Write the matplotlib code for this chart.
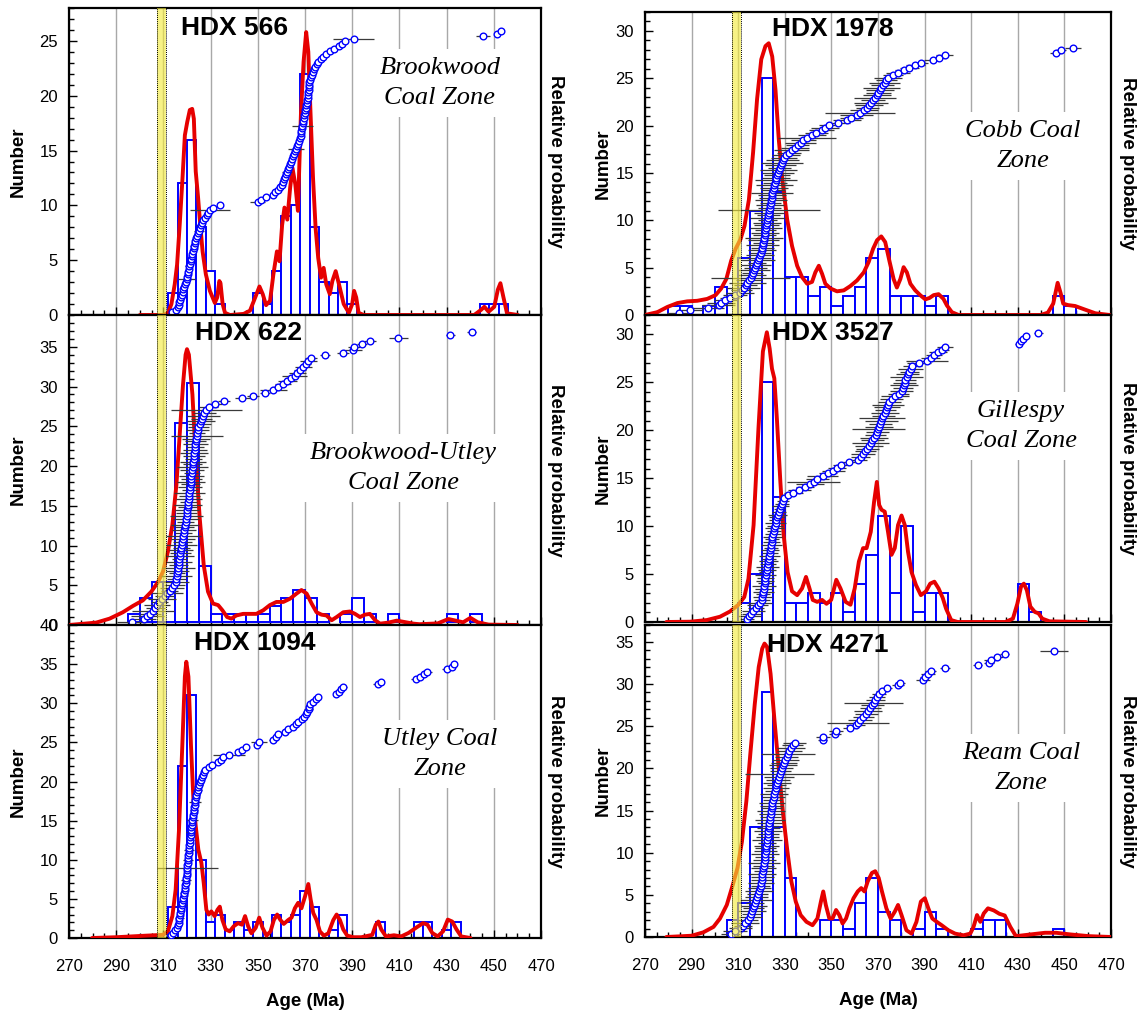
import numpy as np
import matplotlib
matplotlib.use('Agg')
import matplotlib.pyplot as plt
from matplotlib.ticker import FixedLocator, MultipleLocator

plt.rcParams['font.family'] = ['Liberation Sans', 'DejaVu Sans']

# ---------- HDX 566 (Brookwood) ----------
ages_566 = [
    313.8, 315.2,
    316.2, 316.5, 316.8, 317.1, 317.4, 317.8, 318.1, 318.5, 318.8, 319.2, 319.5, 319.8,
    320.1, 320.3, 320.5, 320.8, 321.0, 321.3, 321.5, 321.8, 322.0, 322.3, 322.5, 322.8, 323.0, 323.3, 323.6, 323.9,
    324.2, 324.6, 325.0, 325.4, 325.8, 326.3, 326.9, 327.6,
    328.3, 329.0, 329.8, 330.9,
    334.0,
    349.9, 351.3, 353.4,
    356.6, 357.5, 358.4, 359.3,
    360.3, 360.7, 361.2, 361.6, 362.0, 362.4, 362.8, 363.2, 363.6,
    364.2, 364.6, 365.0, 365.4, 365.8, 366.2, 366.6, 367.0, 367.4, 367.8,
    368.1, 368.3, 368.5, 368.7, 368.9, 369.1, 369.3, 369.5, 369.7, 369.9, 370.1,
    370.3, 370.5, 370.7, 370.9, 371.1, 371.2, 371.4, 371.5, 371.7, 371.8, 371.9,
    372.2, 372.5, 372.8, 373.2, 373.7, 374.3, 374.9, 375.6,
    376.6, 377.6, 378.8, 380.6, 382.2,
    384.6, 385.6, 386.9, 390.6,
    445.6, 451.4, 452.9,
]
err_566 = [
    1.5, 1.2,
    1.2, 1.0, 1.3, 1.0, 1.6, 1.2, 1.8, 1.0, 1.4, 1.2, 1.0, 3.7,
    1.2, 1.0, 1.4, 1.0, 1.7, 1.2, 1.0, 1.3, 1.0, 1.5, 1.2, 1.0, 1.8, 1.2, 1.0, 1.3,
    1.5, 1.0, 2.0, 1.2, 1.8, 1.0, 1.2, 1.0,
    1.0, 1.2, 8.4, 1.0,
    1.0,
    3.2, 1.0, 1.0,
    1.0, 1.2, 1.0, 1.0,
    1.2, 1.0, 1.5, 1.0, 1.2, 2.0, 1.0, 1.3, 1.0,
    1.0, 1.2, 1.0, 1.0, 1.5, 3.2, 1.0, 1.2, 1.0, 1.3,
    1.0, 1.2, 1.0, 1.5, 4.3, 1.0, 1.2, 1.0, 1.4, 1.0, 1.2,
    1.6, 1.0, 1.2, 1.0, 1.5, 1.0, 1.2, 1.0, 1.3, 1.0, 1.2,
    1.3, 1.0, 1.2, 1.0, 1.5, 1.0, 1.2, 1.0,
    1.0, 1.2, 1.0, 1.0, 1.2,
    1.0, 1.2, 1.0, 8.8,
    3.0, 1.0, 1.2,
]
curve_x_566 = [300, 310, 312, 313.4, 314.8, 315.8, 316.9, 318.1, 319.1, 320.1,
               321.2, 322.2, 322.9, 323.7, 324.7, 325.4, 326.6, 328, 329.7, 331.8,
               332.8, 333.7, 334.2, 335.1, 336.1, 338.2, 344, 346.7, 348.9, 350.7,
               352.1, 353.5, 355.2, 356.6, 358.1, 359.2, 360.3, 361.3, 362.5, 363.7,
               364.7, 365.9, 367.0, 368.3, 369.4, 370.5, 371.4, 372.2, 373.4, 374.5,
               375.6, 376.8, 377.9, 379.0, 380.5, 381.6, 383.0, 384.4, 386.4, 388.6,
               390.0, 390.8, 391.7, 392.7, 394.9, 441.7, 444.5, 446.0, 447.8, 450.2,
               451.7, 452.8, 454.0, 455.6, 460.2]
curve_y_566 = [0, 0, 0.2, 1.0, 2.8, 4.6, 8.2, 12.5, 16.4, 17.6,
               18.7, 18.8, 17.9, 13.1, 10.7, 8.8, 5.8, 3.7, 2.2, 1.1,
               1.6, 3.1, 2.9, 1.0, 0.2, 0, 0.1, 0.4, 1.6, 2.6,
               1.9, 0.9, 1.3, 3.7, 5.8, 4.9, 8.2, 9.8, 8.7, 11.6,
               13.4, 11.9, 9.5, 18.5, 23.1, 25.8, 24.0, 19.2, 12.5, 7.9,
               5.2, 3.4, 4.3, 2.8, 1.9, 3.1, 4.0, 2.8, 1.0, 0.2,
               1.0, 2.2, 1.6, 0.2, 0, 0, 0.45, 0.75, 0.3, 0.75,
               2.3, 2.9, 1.7, 0.15, 0]

# ---------- HDX 622 (Brookwood-Utley) ----------
ages_622 = [
    296.5,
    301.8, 303.2, 304.4,
    305.6, 306.5, 307.4, 308.3, 309.3,
    310.6, 311.6, 312.6, 313.6, 314.6,
    315.2, 315.4, 315.6, 315.8, 316.0, 316.2, 316.4, 316.6, 316.8, 317.0, 317.2, 317.4, 317.6,
    317.8, 318.0, 318.2, 318.4, 318.6, 318.8, 319.0, 319.2, 319.4, 319.6, 319.8, 319.9,
    320.1, 320.3, 320.4, 320.6, 320.7, 320.9, 321.0, 321.2, 321.3, 321.5, 321.6, 321.8, 321.9, 322.1, 322.2,
    322.4, 322.5, 322.7, 322.8, 323.0, 323.1, 323.3, 323.4, 323.6, 323.7, 323.9, 324.1, 324.3, 324.5, 324.8,
    325.3, 325.8, 326.3, 326.8, 327.4, 328.2, 329.2,
    332.0, 335.8, 343.4, 347.8, 353.0,
    356.5, 358.7, 360.6, 362.4, 364.2,
    365.6, 366.8, 368.0, 369.3, 370.4, 371.4, 372.4, 378.4,
    386.0, 390.2, 390.8, 394.2, 397.4,
    409.6, 431.6, 440.6,
]
err_622 = [
    6.0,
    5.0, 7.0, 4.5,
    9.0, 4.0, 5.5, 3.5, 6.0,
    4.0, 6.5, 3.5, 5.0, 4.5,
    5.5, 4.0, 6.5, 3.5, 5.0, 7.0, 4.0, 5.5, 3.0, 6.0, 4.5, 5.0, 3.5,
    6.5, 4.0, 5.0, 7.5, 3.5, 5.0, 4.0, 6.0, 3.5, 5.5, 7.0, 4.5,
    5.0, 4.0, 6.0, 3.5, 5.5, 4.5, 6.5, 3.5, 5.0, 4.0, 6.0, 4.5, 5.5, 3.5, 5.0,
    6.5, 4.0, 5.5, 3.5, 4.5, 6.0, 5.0, 4.0, 5.5, 4.5, 6.0, 11.0, 3.5, 5.0, 4.5,
    5.0, 6.0, 4.5, 7.0, 5.0, 15.0, 4.0,
    3.0, 2.5, 3.2, 2.5, 2.0,
    5.7, 2.5, 3.5, 4.0, 2.5,
    5.3, 3.5, 2.5, 3.5, 2.0, 3.5, 2.5, 2.0,
    2.5, 3.9, 2.5, 2.0, 2.5,
    4.2, 2.0, 2.0,
]
curve_x_622 = [270, 281.5, 287.2, 292.8, 297.1, 301.3, 304.9, 307.7, 309.8, 311.9,
               313.8, 315.5, 316.9, 318.3, 319.4, 320.0, 320.8, 322.3, 323.7, 325.4,
               327.1, 328.9, 331.0, 333.2, 335.0, 337.0, 338.8, 340.9, 343.8, 346.6,
               349.4, 352.3, 355.1, 357.9, 360.8, 363.6, 366.4, 368.5, 370.7, 372.8,
               374.9, 377.0, 379.1, 381.3, 383.4, 386.2, 389.1, 391.2, 393.3, 395.4,
               397.5, 399.7, 401.8, 405.3, 408.9, 411.7, 416.0, 418.5, 426.2, 430.8,
               433.9, 437.0, 440.1, 443.2, 447.8, 460.1]
curve_y_622 = [0, 0.3, 0.8, 1.6, 2.4, 3.1, 4.2, 5.4, 6.7, 9.2,
               12.6, 17.6, 23.9, 30.2, 34.0, 34.7, 34.0, 29.0, 21.0, 13.4,
               7.5, 4.2, 2.7, 2.5, 1.85, 1.0, 0.8, 1.2, 1.4, 1.4,
               1.4, 1.85, 2.5, 2.9, 2.9, 3.3, 3.95, 4.4, 3.95, 2.7,
               1.6, 1.3, 1.2, 0.6, 1.0, 1.6, 1.7, 1.4, 1.0, 1.3,
               1.4, 0.6, 0.17, 0.3, 0.55, 0.4, 0.17, 0.1, 0.2, 0.75,
               0.55, 0.34, 0.9, 0.34, 0.05, 0]

# ---------- HDX 1094 (Utley) ----------
ages_1094 = [
    313.2, 314.2, 315.0, 315.7,
    316.2, 316.4, 316.6, 316.8, 317.0, 317.2, 317.4, 317.6, 317.8, 318.0, 318.2,
    318.4, 318.6, 318.8, 319.0, 319.1, 319.3, 319.4, 319.5, 319.6, 319.8, 319.9,
    320.05, 320.1, 320.2, 320.3, 320.4, 320.5, 320.6, 320.7, 320.8, 320.9, 321.0, 321.1, 321.2, 321.4, 321.5, 321.6,
    321.8, 321.9, 322.0, 322.2, 322.3, 322.5, 322.6, 322.8, 322.9, 323.1, 323.2, 323.4, 323.5, 323.7, 323.9,
    324.2, 324.5, 324.8, 325.1, 325.4, 325.8, 326.2, 326.6, 327.1, 327.7,
    329.3, 330.6, 333.0, 334.2, 335.3, 337.8, 341.8, 343.4, 345.2, 349.8, 350.6,
    356.6, 357.6, 358.6, 361.4, 362.8, 364.8, 366.2, 367.2,
    368.6, 369.4, 370.3, 371.0, 371.5, 371.9, 372.3, 373.2, 374.6, 375.6,
    383.2, 384.6, 385.3, 385.9,
    401.0, 402.4, 417.0, 418.6, 420.4, 421.8, 430.2, 432.4, 433.0,
]
err_1094 = [
    1.5, 2.0, 1.2, 1.5,
    1.2, 1.5, 1.0, 2.0, 1.2, 1.0, 1.5, 1.2, 2.2, 1.0, 1.3,
    1.5, 1.0, 1.8, 1.2, 1.0, 1.5, 1.2, 2.0, 1.0, 1.3, 1.0,
    1.2, 13.0, 1.5, 1.0, 2.0, 1.2, 1.0, 1.5, 2.2, 1.0, 1.3, 1.0, 1.8, 1.2, 1.0, 2.0,
    1.3, 1.0, 1.5, 1.2, 2.2, 1.0, 1.3, 1.0, 1.6, 1.2, 1.0, 2.4, 1.2, 1.0, 1.5,
    1.2, 2.0, 1.0, 1.5, 1.2, 1.0, 1.3, 1.0, 1.2, 1.0,
    1.0, 1.2, 1.5, 1.2, 1.0, 6.9, 1.0, 1.2, 1.0, 1.2, 3.5,
    2.0, 1.2, 1.0, 1.2, 1.0, 1.0, 1.2, 1.0,
    1.0, 1.2, 1.0, 1.5, 2.0, 1.2, 1.0, 1.2, 1.0, 1.0,
    1.0, 1.2, 1.0, 2.0,
    2.0, 1.0, 2.0, 1.0, 1.2, 2.0, 2.0, 1.0, 1.2,
]
curve_x_1094 = [279.8, 290, 302.7, 309.8, 311.9, 313.8, 315.2, 316.6, 318.0, 319.1,
                319.7, 320.6, 321.7, 322.8, 323.7, 324.8, 326.1, 327.1, 328.2, 329.2,
                330.3, 331.7, 332.9, 333.9, 335.0, 336.4, 338.1, 339.8, 341.6, 343.3,
                344.6, 345.9, 347.3, 349.1, 350.6, 352.0, 353.7, 355.4, 356.8, 358.2,
                359.6, 361.0, 362.9, 364.3, 365.7, 367.1, 368.5, 370.0, 371.4, 372.4,
                373.5, 374.9, 376.3, 378.0, 379.9, 382.0, 383.4, 384.8, 386.2, 387.9,
                390.5, 393.9, 398.5, 400.0, 401.1, 402.3, 404.3, 407.7, 410.8, 413.9,
                417.0, 420.0, 421.9, 423.9, 426.2, 428.5, 430.5, 432.4, 434.2, 436.2,
                440.1]
curve_y_1094 = [0, 0.1, 0.3, 0.4, 0.85, 2.8, 6.2, 13.8, 24.5, 33.4,
                35.3, 33.4, 24.5, 17.2, 14.3, 11.3, 9.6, 7.0, 3.6, 3.0,
                3.4, 2.8, 3.6, 4.0, 2.3, 1.1, 0.85, 1.5, 1.9, 1.7,
                2.8, 1.5, 0.6, 1.3, 2.6, 1.3, 0.3, 0.85, 2.3, 3.0,
                2.3, 1.8, 2.3, 2.6, 3.8, 4.5, 3.8, 5.3, 6.9, 4.9,
                3.2, 2.3, 0.85, 0.3, 0.6, 2.3, 3.0, 2.3, 1.1, 0.3,
                0.1, 0.1, 0.4, 1.7, 2.1, 1.1, 0.2, 0.35, 0.2, 0.65,
                1.3, 1.9, 1.7, 0.65, 0.2, 0.85, 2.35, 2.1, 1.1, 0.2,
                0]

# ---------- HDX 1978 (Cobb) ----------
ages_1978 = [
    284.4, 289.4, 297.0, 301.6, 302.8, 304.4, 306.4, 308.6,
    310.6, 311.6, 312.4, 313.2, 313.9, 314.6,
    315.3, 315.8, 316.3, 316.8, 317.3, 317.7, 318.1, 318.5, 318.9, 319.3, 319.7,
    320.1, 320.3, 320.5, 320.7, 320.9, 321.1, 321.3, 321.5, 321.7, 321.9, 322.1, 322.3, 322.5,
    322.7, 322.9, 323.1, 323.3, 323.5, 323.7, 323.9, 324.1, 324.3, 324.5, 324.7, 324.9,
    325.2, 325.5, 325.8, 326.1, 326.4, 326.7, 327.0, 327.4, 327.8, 328.2, 328.6, 329.1, 329.6,
    330.6, 331.8, 333.0, 334.2, 335.6, 336.8, 338.0, 339.4,
    341.8, 343.6, 345.8, 347.4, 349.0, 353.0, 356.6, 358.6,
    360.8, 362.4, 363.8, 365.4, 366.2, 367.0, 367.8, 368.6, 369.4,
    370.2, 370.8, 371.4, 372.0, 372.8, 373.6, 374.4,
    376.4, 378.6, 381.0, 383.4, 386.0, 388.6, 393.4, 396.0, 398.6,
    446.4, 448.6, 453.8,
]
err_1978 = [
    5.0, 5.0, 7.0, 7.0, 6.0, 5.0, 4.0, 5.0,
    6.0, 4.5, 7.0, 5.0, 8.0, 5.5,
    17.0, 6.0, 4.5, 7.0, 5.0, 6.5, 4.0, 7.5, 5.0, 6.0, 4.5,
    6.0, 5.0, 7.0, 4.5, 6.5, 8.0, 5.0, 6.0, 4.5, 7.0, 5.5, 6.0, 4.0,
    7.5, 5.0, 6.5, 22.0, 5.0, 6.0, 4.5, 7.0, 5.5, 6.0, 9.0, 5.0,
    6.0, 8.0, 5.0, 9.0, 6.0, 5.5, 7.0, 8.0, 5.0, 6.5, 9.0, 7.0, 5.5,
    6.0, 5.0, 7.5, 6.0, 5.0, 6.5, 5.5, 12.5,
    6.0, 5.0, 5.5, 6.0, 4.5, 5.0, 6.0, 5.0,
    7.0, 15.0, 6.0, 5.0, 6.0, 7.5, 5.0, 9.0, 6.0,
    5.5, 6.0, 8.0, 5.0, 6.5, 4.5, 6.0,
    4.3, 5.0, 3.5, 4.0, 4.0, 3.0, 3.5, 3.0, 3.5,
    2.5, 2.0, 3.5,
]
curve_x_1978 = [270, 275.3, 279.6, 283.9, 288.1, 292.4, 296.7, 300.3, 302.7, 304.9,
                307.0, 308.9, 311.0, 312.7, 314.6, 316.4, 318.1, 319.9, 321.7, 323.1,
                324.6, 326.0, 327.4, 328.9, 331.0, 333.1, 335.3, 337.4, 339.6, 341.7,
                343.1, 344.6, 346.0, 347.4, 349.6, 352.4, 355.3, 358.1, 361.0, 363.9,
                366.0, 367.9, 369.6, 371.4, 373.1, 375.0, 376.7, 378.1, 379.6, 381.0,
                382.4, 383.9, 386.0, 388.1, 390.3, 392.1, 393.9, 396.0, 398.1, 399.6,
                401.7, 404.6, 439.8, 442.9, 445.2, 447.1, 448.4, 449.5, 451.5, 454.6,
                458.5, 463.3, 469.5]
curve_y_1978 = [0, 0.3, 0.85, 1.26, 1.44, 1.5, 1.7, 2.1, 2.8, 3.8,
                5.75, 7.0, 8.0, 9.4, 12.2, 17.2, 22.8, 27.0, 28.4, 28.7,
                27.3, 23.8, 18.6, 14.4, 10.1, 7.3, 5.2, 4.0, 3.3, 3.5,
                4.5, 5.2, 4.35, 3.3, 2.8, 2.5, 2.6, 3.05, 3.65, 4.5,
                5.6, 7.0, 7.9, 8.3, 7.7, 5.6, 3.8, 2.9, 3.8, 5.05,
                4.5, 3.3, 2.6, 2.1, 1.65, 1.8, 2.1, 2.2, 1.7, 1.0,
                0.3, 0, 0, 0.25, 1.2, 3.4, 2.3, 1.2, 1.05, 0.95,
                0.6, 0.18, 0]

# ---------- HDX 3527 (Gillespy) ----------
ages_3527 = [
    313.6, 314.7,
    315.6, 316.5, 317.5, 318.4, 319.3,
    320.1, 320.3, 320.5, 320.7, 320.9, 321.1, 321.3, 321.5, 321.7, 321.9, 322.1, 322.3, 322.5,
    322.7, 322.9, 323.1, 323.3, 323.5, 323.7, 323.9, 324.1, 324.3, 324.5, 324.7, 324.9,
    325.2, 325.5, 325.8, 326.1, 326.4, 326.7, 327.0, 327.4, 327.8, 328.2, 328.6, 329.1, 329.6,
    331.4, 333.6, 336.2, 338.6, 340.8, 342.4, 344.0, 346.2, 348.6,
    350.8, 352.4, 354.0, 357.4,
    361.6, 362.6, 363.6, 364.6, 365.4, 366.2, 366.9, 367.6, 368.3, 369.0, 369.7,
    370.2, 370.6, 371.0, 371.4, 371.8, 372.3, 372.8, 373.3, 373.8, 374.3, 374.8,
    375.8, 377.2, 378.8,
    380.2, 380.6, 381.0, 381.4, 381.8, 382.3, 382.8, 383.4, 384.0, 384.7,
    387.6, 391.2, 392.6, 394.0, 395.8, 397.4, 398.8,
    430.4, 431.2, 432.2, 433.6, 438.8,
]
err_3527 = [
    3.0, 5.0,
    4.0, 5.0, 3.5, 4.5, 5.0,
    3.5, 4.0, 3.0, 4.5, 3.5, 5.0, 3.0, 4.0, 3.5, 4.5, 3.0, 4.0, 5.0,
    3.5, 4.0, 3.0, 4.5, 3.5, 4.0, 3.0, 4.5, 3.5, 3.0, 4.0, 3.5,
    3.0, 4.0, 3.5, 4.6, 3.0, 3.5, 4.0, 3.0, 2.5, 3.5, 3.0, 2.5, 2.0,
    3.0, 4.0, 5.0, 4.0, 6.0, 11.5, 5.0, 6.5, 4.0,
    5.0, 4.0, 3.5, 3.0,
    3.5, 4.0, 5.0, 4.5, 5.0, 6.0, 8.0, 5.0, 6.0, 4.5, 5.0,
    11.5, 6.0, 5.0, 7.0, 10.0, 5.0, 6.0, 4.5, 5.5, 7.0, 5.0,
    5.0, 6.0, 4.5,
    5.0, 4.3, 6.0, 5.0, 4.5, 7.0, 5.0, 4.0, 5.5, 4.0,
    5.0, 9.0, 4.0, 3.5, 4.0, 3.0, 3.5,
    1.5, 1.0, 1.5, 1.0, 2.0,
]
curve_x_3527 = [279.2, 289.3, 296.5, 302.2, 306.5, 310.1, 312.6, 314.4, 316.6, 318.7,
                320.6, 322.3, 323.5, 324.5, 325.5, 326.6, 328.1, 329.5, 331.2, 333.1,
                335.3, 337.4, 339.1, 340.6, 342.0, 343.9, 346.0, 347.9, 349.9, 352.1,
                353.9, 356.1, 358.2, 360.0, 361.8, 363.6, 365.1, 366.9, 368.3, 369.5,
                370.5, 371.5, 372.9, 374.3, 375.8, 377.2, 378.6, 380.1, 381.5, 382.9,
                384.4, 386.3, 388.4, 390.6, 392.4, 394.2, 396.0, 397.8, 399.2, 401.4,
                404.2, 424.7, 427.9, 429.8, 431.4, 432.6, 433.9, 435.4, 437.3, 438.9,
                440.5, 443.6, 459.3]
curve_y_3527 = [0, 0.03, 0.2, 0.55, 1.1, 1.8, 2.6, 4.5, 10.1, 20.2,
                28.2, 30.2, 28.5, 26.4, 25.4, 21.2, 14.6, 9.1, 5.2, 3.2,
                2.8, 3.5, 4.7, 3.5, 2.3, 2.1, 2.3, 1.9, 2.3, 4.4,
                3.5, 2.1, 1.8, 3.5, 6.3, 7.7, 7.7, 9.4, 12.5, 14.6,
                12.2, 11.7, 11.5, 9.4, 7.0, 7.7, 10.1, 11.1, 10.1, 7.3,
                5.2, 3.85, 2.8, 3.2, 4.0, 4.2, 3.5, 2.5, 1.4, 0.2,
                0, 0, 0.35, 1.9, 3.7, 4.0, 3.3, 1.6, 1.05, 0.9,
                0.35, 0.07, 0]

# ---------- HDX 4271 (Ream) ----------
ages_4271 = [
    306.8, 308.6, 311.0, 312.0, 313.0, 314.2,
    315.2, 315.6, 316.0, 316.4, 316.8, 317.2, 317.6, 318.0, 318.4, 318.8, 319.2, 319.6, 319.9,
    320.1, 320.3, 320.4, 320.6, 320.8, 320.9, 321.1, 321.3, 321.4, 321.6, 321.8, 321.9, 322.1, 322.3, 322.4,
    322.6, 322.8, 322.9, 323.1, 323.3, 323.4, 323.6, 323.8, 323.9, 324.1, 324.3, 324.4, 324.6, 324.8,
    325.2, 325.5, 325.8, 326.1, 326.4, 326.7, 327.1, 327.5, 327.9, 328.3, 328.7, 329.2, 329.7,
    330.3, 330.8, 331.4, 332.0, 332.8, 333.5, 334.3,
    346.3, 346.6, 351.5, 352.0, 357.9,
    360.4, 361.3, 362.3, 363.6, 365.0, 365.9, 366.7, 367.5, 368.2, 368.9, 369.6,
    370.4, 371.8, 373.8, 378.6, 379.4,
    389.2, 390.0, 391.4, 392.6, 398.8,
    412.8, 417.6, 418.4, 421.0, 424.4, 445.6,
]
err_4271 = [
    4.0, 5.0, 5.0, 4.0, 6.0, 4.5,
    5.0, 4.0, 6.0, 4.5, 5.5, 4.0, 7.0, 5.0, 4.5, 6.0, 5.0, 4.0, 5.5,
    4.5, 5.0, 6.0, 4.0, 5.5, 4.5, 7.0, 5.0, 4.0, 6.0, 5.0, 4.5, 5.5, 4.0, 6.5,
    5.0, 4.5, 6.0, 5.0, 4.0, 5.5, 6.5, 4.5, 5.0, 6.0, 4.5, 5.0, 5.5, 4.0,
    5.0, 6.0, 4.5, 5.5, 4.0, 6.0, 5.0, 6.5, 14.8, 4.5, 5.0, 6.0, 5.5,
    6.0, 5.0, 11.5, 5.5, 6.0, 4.5, 5.0,
    2.0, 3.0, 2.5, 3.0, 3.0,
    4.0, 13.3, 5.0, 4.5, 5.0, 6.0, 4.5, 5.0, 12.6, 4.0, 3.5,
    3.0, 2.5, 2.0, 2.5, 2.0,
    3.0, 2.0, 3.0, 2.5, 2.0,
    2.0, 2.0, 3.0, 2.5, 2.0, 6.0,
]
curve_x_4271 = [279.2, 290.0, 295.0, 299.4, 302.2, 305.1, 307.7, 309.7, 311.6, 313.5,
                315.2, 317.1, 318.8, 320.3, 321.3, 322.4, 323.9, 325.6, 327.5, 329.3,
                331.1, 332.8, 334.7, 336.8, 339.3, 341.9, 344.0, 345.5, 346.5, 347.6,
                349.1, 350.5, 352.0, 353.4, 354.8, 356.3, 357.7, 359.5, 361.3, 362.8,
                364.2, 365.6, 367.4, 368.8, 370.3, 371.7, 373.6, 375.4, 377.2, 378.6,
                380.1, 382.2, 384.4, 386.5, 388.4, 390.1, 391.6, 393.3, 395.2, 397.3,
                400.2, 403.1, 406.7, 409.6, 411.0, 412.5, 413.9, 415.4, 417.2, 419.7,
                422.1, 424.4, 426.8, 429.2, 435.4, 441.7, 446.4, 452.7, 460.6, 470.0]
curve_y_4271 = [0, 0.15, 0.55, 1.2, 2.2, 3.8, 6.2, 8.2, 11.3, 16.1,
                21.7, 27.6, 32.0, 34.2, 34.8, 34.4, 31.2, 25.6, 19.7, 14.5,
                10.2, 6.6, 4.2, 2.6, 1.8, 1.4, 2.2, 4.2, 5.4, 3.8,
                2.2, 2.2, 3.2, 2.6, 1.6, 2.2, 3.4, 4.6, 5.4, 5.8,
                5.4, 6.6, 7.6, 7.8, 7.0, 5.4, 3.4, 2.2, 3.0, 3.8,
                2.6, 0.8, 0.4, 1.8, 4.2, 4.6, 3.4, 2.2, 1.8, 1.4,
                0.8, 0.4, 0.2, 0.4, 1.2, 2.6, 1.8, 2.8, 3.4, 3.15,
                2.75, 2.55, 1.2, 0.1, 0.3, 0.5, 0.5, 0.3, 0.1, 0]

samples = ['HDX 566', 'HDX 622', 'HDX 1094', 'HDX 1978', 'HDX 3527', 'HDX 4271']
zones = ['Brookwood\nCoal Zone', 'Brookwood-Utley\nCoal Zone', 'Utley Coal\nZone',
         'Cobb Coal\nZone', 'Gillespy\nCoal Zone', 'Ream Coal\nZone']
all_ages = [ages_566, ages_622, ages_1094, ages_1978, ages_3527, ages_4271]
all_errs = [err_566, err_622, err_1094, err_1978, err_3527, err_4271]
all_cx = [curve_x_566, curve_x_622, curve_x_1094, curve_x_1978, curve_x_3527, curve_x_4271]
all_cy = [curve_y_566, curve_y_622, curve_y_1094, curve_y_1978, curve_y_3527, curve_y_4271]

age_ticks = np.arange(270, 471, 20)
ymax = [28, 39, 40, 32, 32, 37]
bin_start = [268, 270, 268, 270, 270, 270]
bin_width = [4, 5, 4, 5, 5, 5]
hist_base = [0, 0.4, 0, 0, 0, 0]
rank_top = [25.9, 36.8, 35.0, 28.2, 30.1, 33.9]   # height of the oldest grain on the number scale
band = (307.3, 311.0)

# panel boxes in pixels: left, top, right, bottom
W, H = 1141, 1016
boxes = [(69, 8, 541, 315), (69, 315, 541, 625), (69, 625, 541, 938),
         (645, 12, 1111, 315), (645, 315, 1111, 622), (645, 625, 1111, 937)]
title_pos = [(0.35, 0.935), (0.381, 0.942), (0.394, 0.942),
             (0.403, 0.944), (0.403, 0.941), (0.393, 0.936)]
zone_pos = [(0.786, 0.756), (0.708, 0.506), (0.786, 0.588),
            (0.811, 0.558), (0.807, 0.638), (0.807, 0.542)]

fig = plt.figure(figsize=(W / 100, H / 100), dpi=100)

for k in range(6):
    l, t, r, b = boxes[k]
    ax = fig.add_axes([l / W, 1 - b / H, (r - l) / W, (b - t) / H])

    ages = np.asarray(all_ages[k], dtype=float)
    errs = np.asarray(all_errs[k], dtype=float)
    assert len(ages) == len(errs), samples[k]
    order = np.argsort(ages, kind='stable')
    ages, errs = ages[order], errs[order]
    n = len(ages)

    ax.set_xlim(270, 470)
    ax.set_ylim(0, ymax[k])
    ax.xaxis.set_major_locator(FixedLocator(age_ticks))
    ax.xaxis.set_minor_locator(MultipleLocator(5))
    ax.yaxis.set_major_locator(MultipleLocator(5))
    ax.yaxis.set_minor_locator(MultipleLocator(1))
    ax.grid(axis='x', which='major', color='#a8a8a8', lw=1.0)
    ax.set_axisbelow(True)

    # histogram of grain ages
    edges = np.arange(bin_start[k], 470 + bin_width[k], bin_width[k])
    counts, _ = np.histogram(ages, bins=edges)
    keep = counts > 0
    ax.bar(edges[:-1][keep], counts[keep], width=bin_width[k], align='edge',
           bottom=hist_base[k], facecolor='white', edgecolor='#0000ff',
           linewidth=1.4, zorder=2)

    # relative probability curve
    ax.plot(all_cx[k], all_cy[k], color='#e60000', lw=2.8, zorder=3,
            solid_joinstyle='round', solid_capstyle='round')

    # ranked ages with error bars
    rank_y = np.arange(1, n + 1) * rank_top[k] / n
    ax.errorbar(ages, rank_y, xerr=errs, fmt='none', ecolor='#3a3a3a',
                elinewidth=0.9, zorder=4)
    ax.plot(ages, rank_y, 'o', ms=4.8, mfc='white', mec='#0000ff', mew=1.0, zorder=5)

    # depositional age band
    ax.axvspan(band[0], band[1], facecolor='#f3ea3a', alpha=0.62, lw=0, zorder=6)
    for xv in band:
        ax.axvline(xv, color='black', ls=(0, (1, 1)), lw=0.7, zorder=6)

    ax.text(*title_pos[k], samples[k], transform=ax.transAxes, ha='center',
            va='center', fontsize=19, fontweight='bold', zorder=8)
    ax.text(*zone_pos[k], zones[k], transform=ax.transAxes, ha='center',
            va='center', fontsize=19, family=['Liberation Serif', 'DejaVu Serif'],
            style='italic', linespacing=1.5, zorder=7,
            bbox=dict(boxstyle='square,pad=0.3', facecolor='white', edgecolor='none'))

    left_col = k < 3
    ax.text(-0.108 if left_col else -0.09, 0.5, 'Number', transform=ax.transAxes,
            rotation=90, ha='center', va='center', fontsize=13.5, fontweight='bold')
    ax.text(1.03 if left_col else 1.036, 0.5, 'Relative probability',
            transform=ax.transAxes, rotation=270, ha='center', va='center',
            fontsize=13.5, fontweight='bold')

    for sp in ax.spines.values():
        sp.set_linewidth(1.6)
    ax.tick_params(which='both', direction='in', top=False, right=False, width=1.0)
    ax.tick_params(which='major', length=6)
    ax.tick_params(which='minor', length=3.5)
    ax.tick_params(axis='y', labelsize=12, pad=8)
    ax.tick_params(axis='x', labelsize=12, pad=15)

    if k in (2, 5):
        ax.set_xlabel('Age (Ma)', fontsize=13.5, fontweight='bold', labelpad=14)
    else:
        ax.tick_params(axis='x', labelbottom=False)

fig.savefig('out.png', dpi=100, facecolor='white')
